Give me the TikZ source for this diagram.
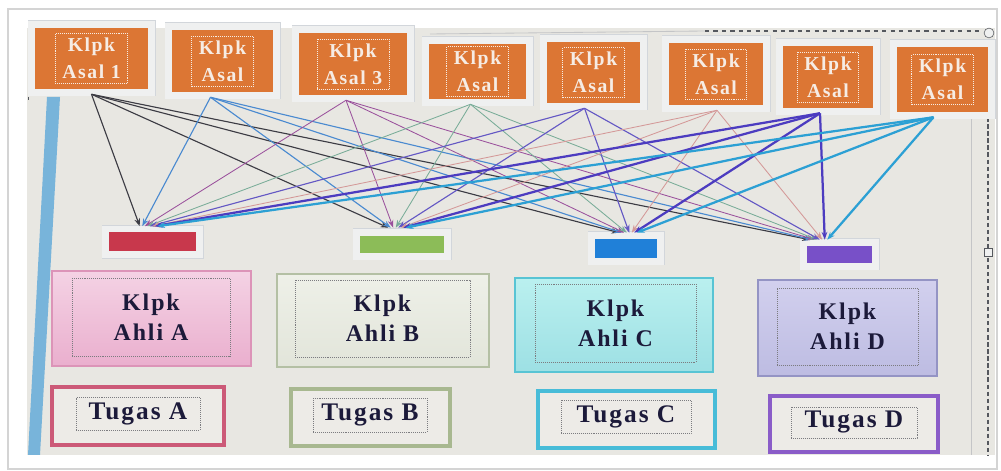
\documentclass[tikz,border=0pt]{standalone}
\usepackage{fontspec}
\setmainfont{Liberation Serif}[LetterSpace=8]
\usetikzlibrary{arrows.meta}

\definecolor{bgcont}{HTML}{E8E7E2}
\definecolor{outerline}{HTML}{D4D4D4}
\definecolor{selline}{HTML}{55585E}
\definecolor{leftbar}{HTML}{78B4DA}
\definecolor{asalorange}{HTML}{DC7634}
\definecolor{asaltext}{HTML}{F6ECE4}
\definecolor{framewhite}{HTML}{EFF0F0}
\definecolor{framegray}{HTML}{D2D6DB}
\definecolor{dotgray}{HTML}{7C7C80}
\definecolor{textdark}{HTML}{1C1A3A}
\definecolor{tugasfill}{HTML}{EDEBE7}
% small bars
\definecolor{barA}{HTML}{C8384C}
\definecolor{barB}{HTML}{8CBC58}
\definecolor{barC}{HTML}{2080D8}
\definecolor{barD}{HTML}{7850C8}
% expert group boxes
\definecolor{ahlitopA}{HTML}{F4D2E4}
\definecolor{ahlibotA}{HTML}{EAAFCE}
\definecolor{ahlilineA}{HTML}{DC94B8}
\definecolor{ahlitopB}{HTML}{EEF0E8}
\definecolor{ahlibotB}{HTML}{E2E5DA}
\definecolor{ahlilineB}{HTML}{B4C0A4}
\definecolor{ahlitopC}{HTML}{BAF0EF}
\definecolor{ahlibotC}{HTML}{9DE0E4}
\definecolor{ahlilineC}{HTML}{58C4D4}
\definecolor{ahlitopD}{HTML}{D2D0EE}
\definecolor{ahlibotD}{HTML}{BDBCE2}
\definecolor{ahlilineD}{HTML}{9494C4}
\definecolor{tugaslineA}{HTML}{CC5A78}
\definecolor{tugaslineB}{HTML}{A8B890}
\definecolor{tugaslineC}{HTML}{48BCD8}
\definecolor{tugaslineD}{HTML}{8A5CC8}
% links
\definecolor{lnkA}{HTML}{3C3C44}
\definecolor{lnkB}{HTML}{4A8AD0}
\definecolor{lnkC}{HTML}{9A509C}
\definecolor{lnkD}{HTML}{78AC98}
\definecolor{lnkE}{HTML}{6458C4}
\definecolor{lnkF}{HTML}{D49898}
\definecolor{lnkG}{HTML}{4C3CC0}
\definecolor{lnkH}{HTML}{2CA0D4}

\newcommand{\pxu}{0.025cm}

\tikzset{
  framed/.style={preaction={draw=framegray, line width=15*\pxu},
                 preaction={draw=framewhite, line width=13.5*\pxu}},
  asal/.style={framed, fill=asalorange, inner sep=0pt},
  asaltxt/.style={draw=asaltext, densely dotted, text=asaltext,
                  font=\bfseries\fontsize{14}{19}\selectfont, align=center,
                  inner xsep=5pt, inner ysep=2pt, minimum height=50*\pxu},
  bar/.style={framed, inner sep=0pt},
  ahli/.style={line width=1pt, inner sep=0pt},
  ahlitxt/.style={draw=dotgray, densely dotted, text=textdark,
                  font=\bfseries\fontsize{17}{21.5}\selectfont, align=center, inner sep=0pt},
  tugas/.style={line width=2.2pt, fill=tugasfill, inner sep=0pt},
  tugastxt/.style={draw=dotgray, densely dotted, text=textdark,
                   font=\bfseries\fontsize{18}{22}\selectfont, inner sep=0pt},
  link/.style={-{Stealth[length=5.5pt,width=4pt]}, line width=#1},
}

\begin{document}
\begin{tikzpicture}[x=\pxu, y=-\pxu]
  \useasboundingbox (0,0) rectangle (1001,471);
  \fill[white] (0,0) rectangle (1001,471);
  \draw[outerline, line width=1.2pt] (8,9) rectangle (997,469);
  \fill[bgcont] (27,28) rectangle (995,455);
  \fill[leftbar] (47,97) -- (60,97) -- (40,455) -- (28,455) -- cycle;

  % selection frame
  \draw[selline!35, line width=0.6pt] (430,34) -- (705,31);
  \draw[selline, dashed, line width=1.2pt] (705,31) -- (983,31);
  \draw[selline, densely dashed, line width=0.8pt] (988,40) -- (988,455);
  \draw[selline!35] (971,118) -- (971,455);
  \draw[selline, dashed] (28,30) -- (28,100);
  \draw[selline, fill=framewhite] (989,33) circle (3.5pt);
  \draw[selline, fill=framewhite] (984,248) rectangle (992,256);

  % home groups
  \foreach \x/\y/\w/\h/\dx/\lbl [count=\i] in {
      91.5/58.5/113/61/0/{Klpk\\Asal 1},
      222.5/61/101/62/-12/{Klpk\\Asal},
      353/64/108/62/-7/{Klpk\\Asal 3},
      477.5/71.5/97/55/-7/{Klpk\\Asal},
      593.5/72.5/93/61/-9/{Klpk\\Asal},
      716/74/94/62/1/{Klpk\\Asal},
      828/77/90/62/-8/{Klpk\\Asal},
      942.5/79.5/91/65/-9/{Klpk\\Asal}}{
    \node[asal, minimum width=\w*\pxu, minimum height=\h*\pxu] (asal\i) at (\x,\y) {};
    \node[asaltxt] (asaltxt\i) at (asal\i) {\lbl};
    \coordinate (src\i) at ([shift={(\dx,5)}]asal\i.south);
  }

  % colour bars above the expert groups
  \foreach \n/\x/\y/\w/\h/\dx/\dy in {
      A/152.5/242/87/19/-4/-6,
      B/402/244.5/84/17/-5/-8,
      C/626/248.5/62/19/2/-6,
      D/839.5/254.5/65/17/-21/-6}{
    \node[bar, fill=bar\n, minimum width=\w*\pxu, minimum height=\h*\pxu] (bar\n) at (\x,\y) {};
    \coordinate (tgt\n) at ([shift={(\dx,\dy)}]bar\n.north);
  }

  % expert groups
  \foreach \n/\x/\y/\w/\h/\ix/\iy/\iw/\ih in {
      A/151.5/318.5/199/95/151/317/158/78,
      B/383/320.5/212/93/382.5/318.5/175/77,
      C/614/325/198/94/615.5/323/161/78,
      D/847.5/328/179/96/847.5/326.5/141/77}{
    \node[ahli, draw=ahliline\n, top color=ahlitop\n, bottom color=ahlibot\n,
          minimum width=\w*\pxu, minimum height=\h*\pxu] (ahli\n) at (\x,\y) {};
    \node[ahlitxt, minimum width=\iw*\pxu, minimum height=\ih*\pxu] (ahlitxt\n) at (\ix,\iy) {Klpk\\Ahli \n};
  }

  % tasks
  \foreach \n/\x/\y/\w/\h/\ix/\iy/\iw/\ih in {
      A/138/416/172/58/138/413.5/124/33,
      B/370.5/417.5/159/57/370/415/114/34,
      C/626.5/419.5/177/57/626/416.5/130/33,
      D/854/424/168/56/854/422.5/126/31}{
    \node[tugas, draw=tugasline\n, minimum width=\w*\pxu, minimum height=\h*\pxu] (tugas\n) at (\x,\y) {};
    \node[tugastxt, minimum width=\iw*\pxu, minimum height=\ih*\pxu] (tugastxt\n) at (\ix,\iy) {Tugas \n};
  }

  % every home group sends a member to every expert group
  \foreach \i/\c/\lw in {1/lnkA/0.8pt, 2/lnkB/0.8pt, 3/lnkC/0.6pt, 4/lnkD/0.6pt,
                         5/lnkE/0.8pt, 6/lnkF/0.6pt, 7/lnkG/1.6pt, 8/lnkH/1.6pt}{
    \foreach \j in {A,B,C,D}
      \draw[link=\lw, draw=\c] (src\i) -- ([shift={(\i*2.5-11.25,0)}]tgt\j);
  }
\end{tikzpicture}
\end{document}
